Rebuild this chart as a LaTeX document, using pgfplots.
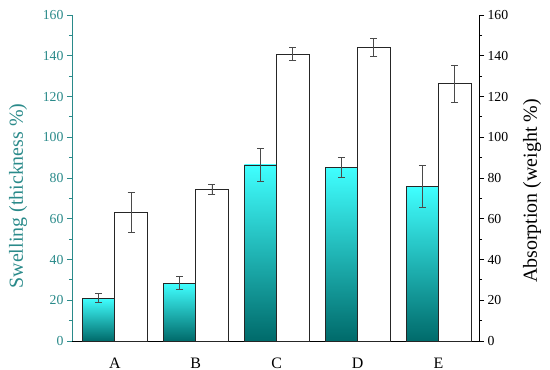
\documentclass[border=0pt]{standalone}
\usepackage{pgfplots}
\pgfplotsset{compat=1.18}
\usepackage{fontspec}
\setmainfont{Liberation Serif}
\definecolor{tealax}{HTML}{2A8A8A}
\definecolor{cyantop}{HTML}{40FFFF}
\definecolor{cyanbot}{HTML}{006A6A}
\definecolor{errc}{HTML}{4A4A4A}
\begin{document}
\begin{tikzpicture}
\pgfplotsset{
  common/.style={
    scale only axis, width=407bp, height=326bp,
    xmin=-0.53, xmax=4.5, ymin=0, ymax=160,
    ytick={0,20,...,160}, minor y tick num=1,
    tick align=outside,
    major tick length=5bp, minor tick length=3bp,
    tick label style={font=\fontsize{13.8}{15}\selectfont},
    label style={font=\fontsize{20}{22}\selectfont},
    /pgf/number format/assume math mode=true,
  },
  ebar/.style={error bars/.cd, y dir=both, y explicit,
    error bar style={errc, line width=0.8pt},
    error mark options={errc, rotate=90, mark size=3.5bp, line width=0.8pt}},
  cyanbar/.style={ybar, bar width=0.4, bar shift=-0.2, draw=black!85, line width=0.8pt,
    top color=cyantop, bottom color=cyanbot, ebar},
  whitebar/.style={ybar, bar width=0.4, bar shift=0.2, draw=black!85, line width=0.8pt,
    fill=white, ebar},
}
\begin{axis}[common,
  axis x line*=bottom, axis y line*=left,
  xtick={0,1,2,3,4}, xticklabels={A,B,C,D,E},
  x tick style={draw=none},
  xticklabel style={font=\fontsize{16}{18}\selectfont, anchor=base, yshift=-22bp},
  y axis line style={draw=tealax, line width=0.9pt},
  x axis line style={draw=black, line width=0.9pt},
  y tick style={draw=tealax, line width=0.9pt},
  minor y tick style={draw=tealax, line width=0.9pt},
  yticklabel style={text=tealax},
  ylabel={Swelling (thickness \%)},
  ylabel style={text=tealax, at={([xshift=-54bp]rel axis cs:0,0.445)}, anchor=center},
  ybar,
]
\addplot[cyanbar] coordinates {(0,21.1) +- (0,2.1)};
\addplot[cyanbar] coordinates {(1,28.4) +- (0,3.2)};
\addplot[cyanbar] coordinates {(2,86.4) +- (0,8.3)};
\addplot[cyanbar] coordinates {(3,85.1) +- (0,5.0)};
\addplot[cyanbar] coordinates {(4,75.8) +- (0,10.2)};
\addplot[whitebar]
  coordinates {
  (0,63.0) +- (0,9.7)
  (1,74.4) +- (0,2.4)
  (2,140.8) +- (0,3.1)
  (3,144.1) +- (0,4.2)
  (4,126.2) +- (0,9.3)
  };
\coordinate (bl) at (rel axis cs:0,0);
\coordinate (tr) at (rel axis cs:1,1);
\end{axis}
\begin{axis}[common,
  axis x line=none, axis y line*=right,
  y axis line style={draw=black, line width=0.9pt},
  y tick style={draw=black, line width=0.9pt},
  minor y tick style={draw=black, line width=0.9pt},
  ylabel={Absorption (weight \%)},
  ylabel style={at={([xshift=53bp]rel axis cs:1,0.46)}, anchor=center},
]
\end{axis}
\pgfresetboundingbox
\path[use as bounding box] ([shift={(-72bp,-29bp)}]bl) rectangle ([shift={(71bp,15bp)}]tr);
\end{tikzpicture}
\end{document}
